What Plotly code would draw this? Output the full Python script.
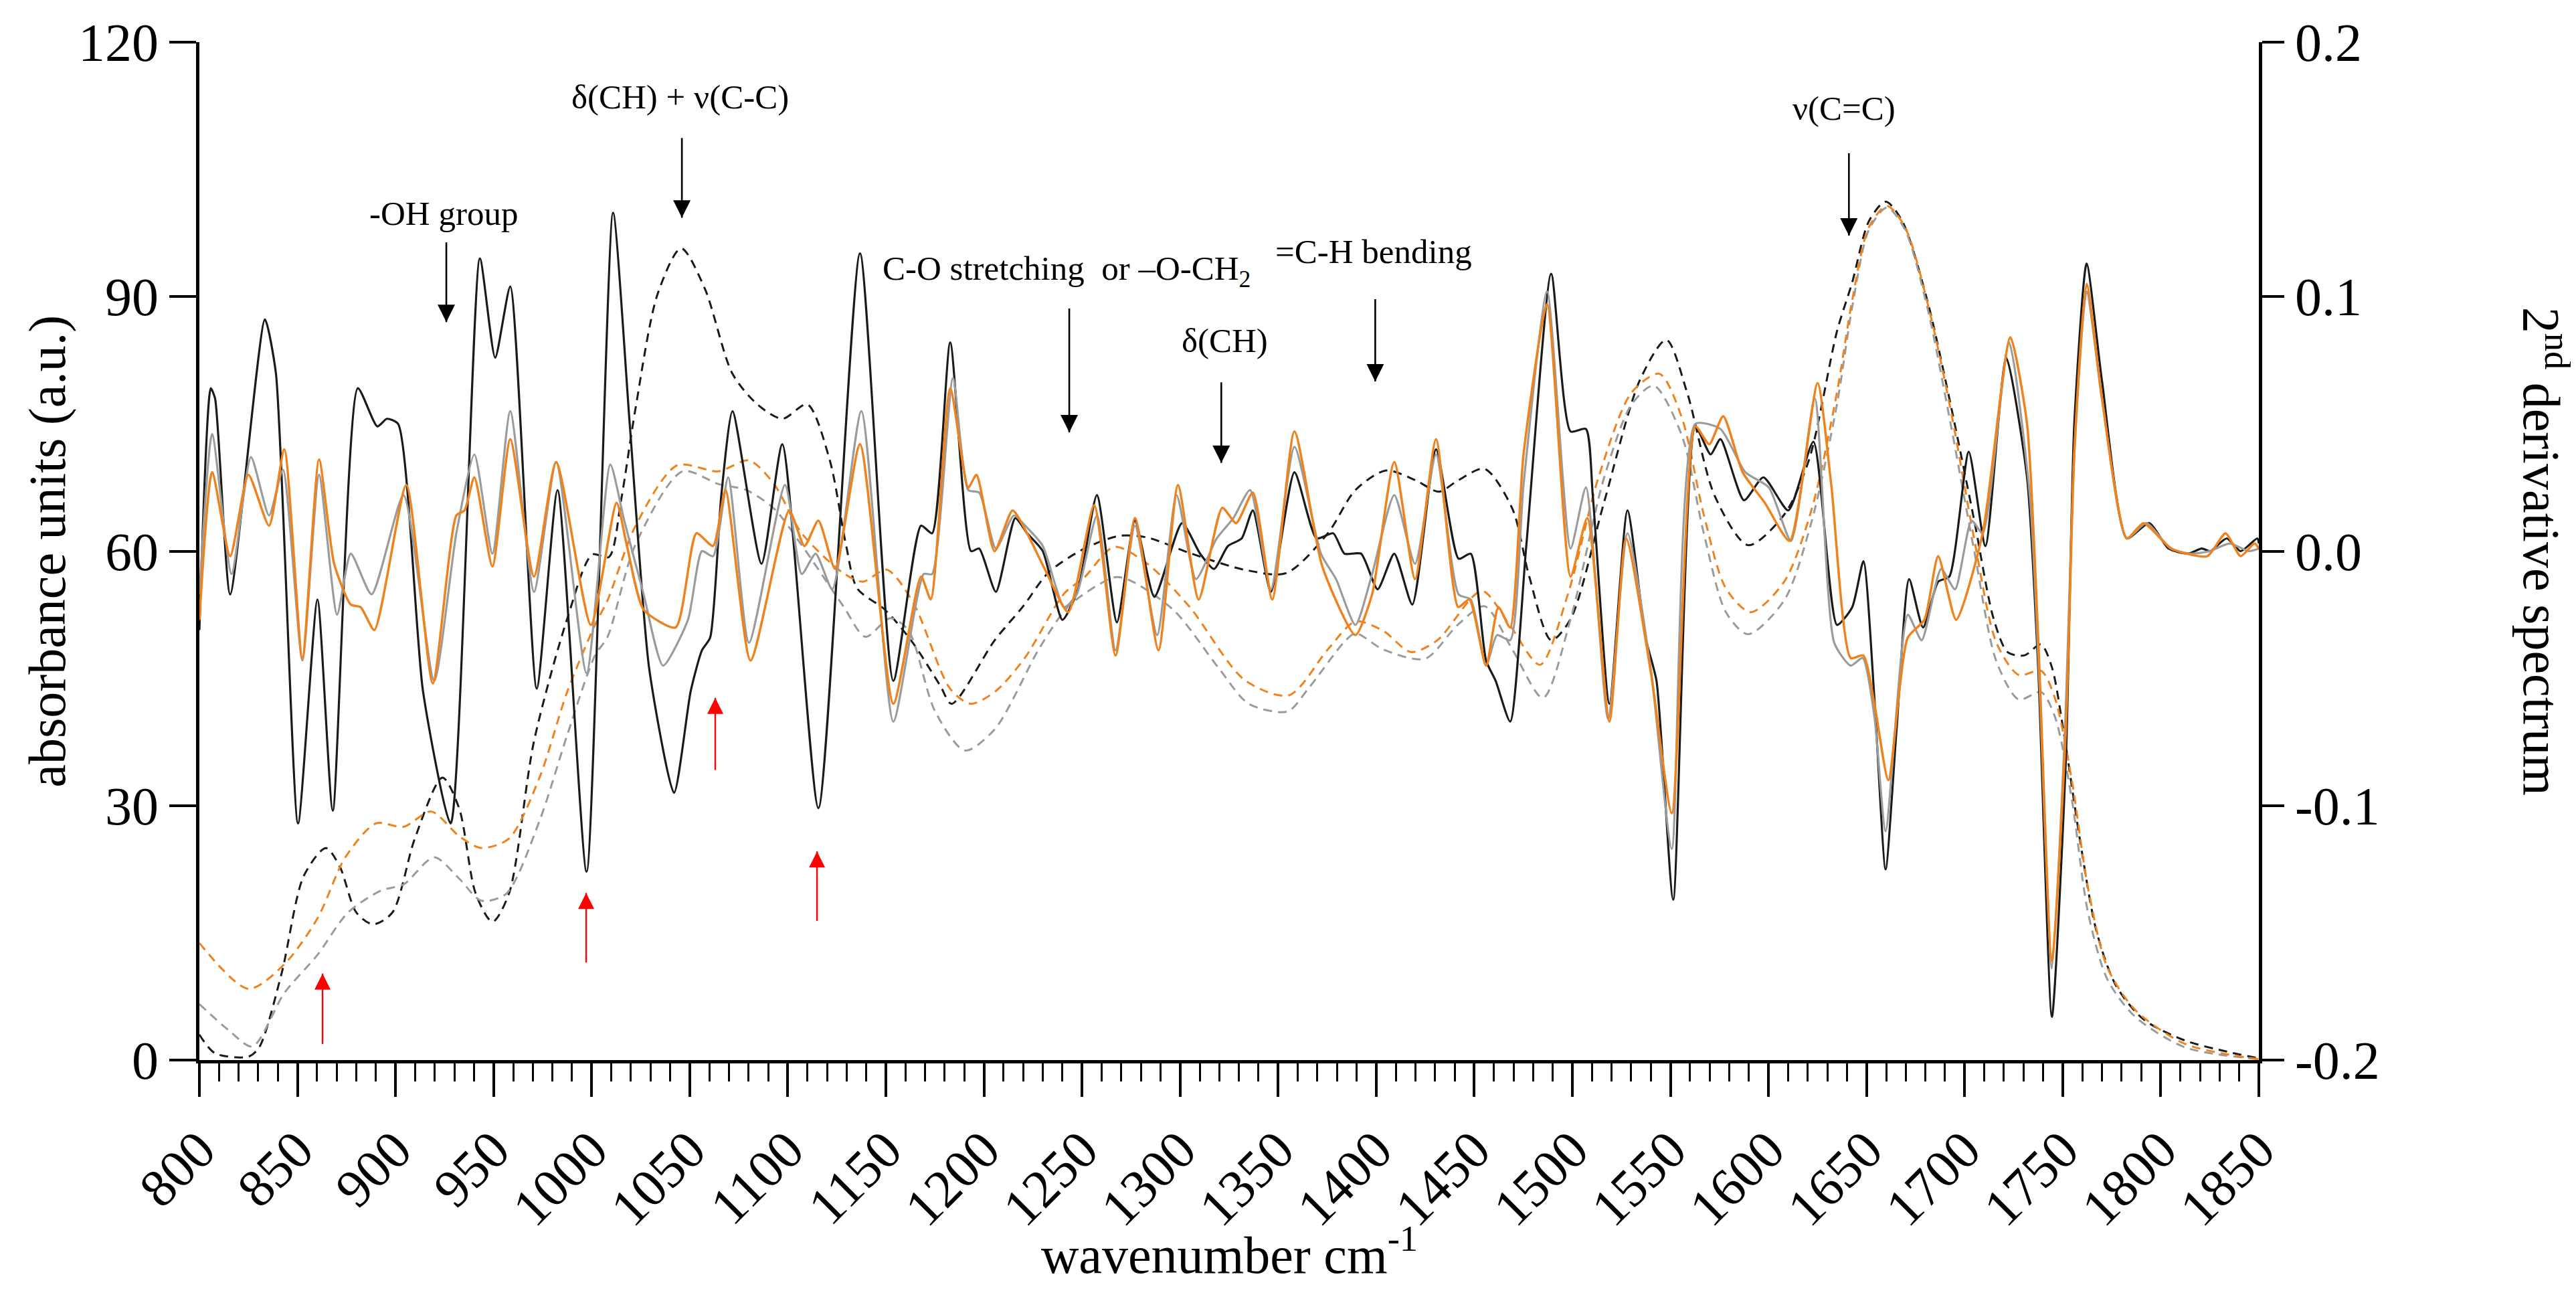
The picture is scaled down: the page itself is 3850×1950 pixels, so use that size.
import plotly.graph_objects as go

# ---------------- data ----------------
# 2nd-derivative spectra (right axis)
d2_black_x = [800, 805.8, 808, 815.7, 833.4, 839, 850.3, 860.2, 868, 880.8, 890.7, 895.6, 901.3, 914, 928.1, 943, 950.8, 958.5, 972, 982.6, 997.4, 1010.9, 1019.4, 1029.3, 1042, 1050.5, 1056.2, 1060.4, 1066.1, 1071.8, 1086.6, 1097.2, 1115.6, 1136.8, 1153.8, 1167.9, 1173.6, 1182.8, 1193.4, 1197.6, 1206.1, 1216, 1222, 1230, 1240, 1248, 1257.6, 1267.8, 1277, 1286.9, 1301, 1310.2, 1317.3, 1324.4, 1331.4, 1337.1, 1346.3, 1358.3, 1369.6, 1378.1, 1383.8, 1392.3, 1400.7, 1409.2, 1418.4, 1430.5, 1442, 1448.2, 1456, 1460.9, 1468.3, 1476.5, 1489.2, 1499.1, 1506.9, 1510.4, 1518.9, 1528.1, 1537.3, 1542.9, 1551.4, 1562.7, 1570.5, 1575.5, 1587.5, 1597.4, 1610.1, 1622.9, 1634.9, 1642.7, 1648.4, 1654, 1659.7, 1665.3, 1671.7, 1678.8, 1686.5, 1692.2, 1702.1, 1710.6, 1721.2, 1731.8, 1737.5, 1744.5, 1751.6, 1755.9, 1762.2, 1770, 1782.7, 1794, 1804, 1813.8, 1820.9, 1825.2, 1833.6, 1840.7, 1849.2, 1850]
d2_black_y = [-0.031, 0.064, 0.060, -0.017, 0.091, 0.070, -0.107, -0.019, -0.102, 0.064, 0.049, 0.052, 0.050, -0.055, -0.107, 0.115, 0.076, 0.104, -0.054, 0.024, -0.126, 0.133, 0.050, -0.046, -0.095, -0.055, -0.039, -0.034, 0.022, 0.055, -0.005, 0.042, -0.101, 0.117, -0.051, 0.010, 0.007, 0.082, 0.000, 0.001, -0.016, 0.013, 0.007, 0.000, -0.027, -0.015, 0.022, -0.028, 0.012, -0.018, 0.011, -0.001, -0.007, 0.002, 0.005, 0.016, -0.016, 0.031, 0.005, 0.007, -0.001, -0.001, -0.015, -0.001, -0.021, 0.040, -0.003, -0.001, -0.043, -0.051, -0.067, 0.002, 0.109, 0.047, 0.048, 0.022, -0.060, 0.016, -0.034, -0.051, -0.137, 0.049, 0.038, 0.044, 0.020, 0.029, 0.016, 0.043, -0.029, -0.022, -0.004, -0.058, -0.125, -0.070, -0.011, -0.030, -0.012, -0.010, 0.039, 0.002, 0.076, 0.029, -0.046, -0.183, -0.082, 0.050, 0.113, 0.067, 0.005, 0.011, 0.001, -0.001, 0.001, 0.000, 0.005, 0.000, 0.005, 0.003]

d2_gray_x = [800, 806.5, 816.4, 826.3, 835.5, 842.6, 852.5, 861, 870.2, 877.2, 887.8, 904.1, 919.7, 931, 940.2, 949.4, 958.5, 970.6, 981.9, 997.4, 1009.5, 1016.6, 1026.5, 1036.4, 1049.1, 1056.2, 1061.9, 1069.6, 1080.2, 1098.6, 1107.1, 1114.2, 1122.7, 1137.5, 1153.8, 1169.3, 1173.6, 1184.2, 1192, 1197.6, 1206.1, 1215.3, 1221, 1230, 1240.9, 1247.3, 1257.6, 1267.1, 1277, 1288.3, 1298.2, 1308.1, 1318.7, 1327.2, 1335.7, 1346.3, 1358.3, 1371.8, 1379.5, 1389.4, 1397.9, 1409.2, 1419.8, 1430.5, 1442, 1448.2, 1456, 1461.6, 1468.3, 1475.1, 1487.1, 1499.1, 1506.9, 1518.2, 1528.1, 1540.1, 1550.7, 1562.7, 1575.5, 1588.2, 1600.2, 1611.5, 1623.6, 1633.5, 1641.9, 1648, 1654, 1659.7, 1671, 1678.1, 1688, 1695.1, 1703.5, 1709.2, 1722.6, 1733.2, 1738, 1744.5, 1751, 1756, 1762.2, 1770, 1782.7, 1792.6, 1805, 1815, 1825, 1835, 1845, 1850]
d2_gray_y = [-0.017, 0.046, -0.009, 0.037, 0.014, 0.032, -0.043, 0.030, -0.025, -0.001, -0.017, 0.022, -0.051, 0.007, 0.038, -0.001, 0.055, -0.016, 0.035, -0.048, 0.034, 0.012, -0.017, -0.045, -0.027, 0.000, -0.002, 0.029, -0.036, 0.026, -0.009, -0.001, -0.015, 0.055, -0.067, -0.009, -0.009, 0.068, 0.024, 0.023, 0.001, 0.014, 0.010, 0.002, -0.022, -0.017, 0.014, -0.039, 0.010, -0.033, 0.022, -0.011, 0.005, 0.013, 0.024, -0.015, 0.041, -0.001, -0.011, -0.029, -0.009, 0.022, -0.005, 0.038, -0.017, -0.019, -0.045, -0.033, -0.035, 0.026, 0.102, 0.001, 0.025, -0.066, 0.007, -0.047, -0.117, 0.050, 0.048, 0.031, 0.025, 0.004, 0.060, -0.036, -0.045, -0.042, -0.065, -0.110, -0.025, -0.035, -0.007, -0.015, 0.012, 0.007, 0.082, 0.022, -0.050, -0.164, -0.073, 0.040, 0.102, 0.060, 0.005, 0.011, 0.001, -0.001, 0.000, 0.003, 0.000, 0.001]

d2_orange_x = [800, 806.5, 815.7, 825, 835.5, 843.3, 852.5, 861, 868.7, 877.2, 882.2, 889.2, 905.5, 919, 931, 935.2, 940.2, 949.4, 958.5, 970.6, 981.9, 999.6, 1012.7, 1018, 1026.5, 1042.8, 1053.4, 1061.9, 1068.2, 1081, 1100.7, 1108.5, 1115.6, 1124.1, 1136.8, 1153.8, 1167.9, 1172.9, 1182.8, 1192, 1196.2, 1205.4, 1214.6, 1222, 1231, 1243, 1256.2, 1267.1, 1277, 1289, 1298.9, 1309.5, 1321.5, 1328.6, 1337.1, 1347, 1358.3, 1372.5, 1389.4, 1397.9, 1409.2, 1419.8, 1430.5, 1441.8, 1447.5, 1456, 1462.3, 1468.3, 1475.1, 1487.1, 1499.1, 1507.6, 1518.9, 1527.4, 1540.1, 1550.7, 1562.7, 1569.8, 1576.9, 1586.8, 1598.1, 1610.8, 1625, 1632, 1641.9, 1648.3, 1654, 1661.1, 1671, 1679.5, 1686.5, 1695.7, 1709.2, 1723.3, 1731.8, 1737.5, 1744.5, 1751.6, 1756, 1762.2, 1770, 1782.7, 1791.2, 1805.4, 1823.7, 1833, 1840.7, 1847.8, 1850]
d2_orange_y = [-0.027, 0.031, -0.002, 0.030, 0.010, 0.040, -0.042, 0.036, -0.005, -0.021, -0.022, -0.031, 0.026, -0.052, 0.014, 0.016, 0.029, -0.006, 0.044, -0.010, 0.035, -0.029, 0.019, 0.002, -0.023, -0.030, 0.007, 0.002, 0.024, -0.043, 0.016, 0.002, 0.012, -0.007, 0.042, -0.060, -0.010, -0.019, 0.064, 0.025, 0.030, 0.000, 0.016, 0.007, -0.007, -0.024, 0.018, -0.041, 0.013, -0.039, 0.026, -0.019, 0.017, 0.011, 0.023, -0.019, 0.047, -0.006, -0.033, -0.017, 0.035, -0.011, 0.044, -0.022, -0.019, -0.045, -0.022, -0.030, 0.038, 0.097, -0.010, 0.013, -0.067, 0.005, -0.048, -0.103, 0.049, 0.042, 0.053, 0.031, 0.019, 0.004, 0.066, 0.026, -0.042, -0.041, -0.060, -0.090, -0.034, -0.027, -0.002, -0.027, 0.007, 0.084, 0.050, -0.034, -0.161, -0.070, 0.040, 0.105, 0.060, 0.005, 0.011, 0.001, -0.002, 0.007, -0.002, 0.003, 0.001]

# absorbance spectra (left axis)
abs_black_x = [800, 808, 825, 830.5, 841.9, 853.2, 864.5, 871.6, 880, 888.5, 898.4, 909.8, 923.9, 932.4, 940.9, 949.4, 957.8, 970.6, 987.5, 1000.3, 1008.8, 1015, 1022.2, 1033.6, 1045.6, 1057.6, 1071.8, 1084.5, 1097.2, 1109.9, 1121.3, 1129.7, 1135.4, 1149.5, 1163.7, 1177.8, 1183.5, 1205.5, 1220, 1233, 1251.2, 1269.2, 1283.3, 1304.6, 1332.9, 1354.1, 1375.3, 1389.4, 1405, 1420.5, 1431.9, 1441.5, 1455.2, 1469.4, 1477.9, 1489.2, 1499.1, 1516.1, 1534.5, 1547.9, 1558.5, 1572.6, 1589.6, 1608, 1620.7, 1634.9, 1642.7, 1651.2, 1659.7, 1668.2, 1680.9, 1692.2, 1704.9, 1714.8, 1721.9, 1730.4, 1738.9, 1744.5, 1750.2, 1758.7, 1767.2, 1777.1, 1791.2, 1812.4, 1833.6, 1850]
abs_black_y = [3.0, 0.8, 0.4, 1.5, 10.2, 21.7, 25.0, 22.8, 17.4, 16.0, 17.4, 26.1, 33.3, 29.7, 19.6, 16.3, 19.6, 37.6, 52.0, 59.6, 59.3, 66.0, 76.6, 90.3, 95.7, 91.0, 80.9, 77.3, 75.6, 77.3, 70.8, 60.7, 55.6, 53.1, 49.2, 44.1, 42.0, 49.5, 53.5, 57.5, 60.3, 61.8, 61.6, 59.8, 57.8, 57.4, 62.1, 67.2, 69.5, 68.3, 67.0, 68.3, 69.7, 65.0, 57.1, 49.5, 52.0, 65.7, 80.2, 84.9, 78.7, 66.5, 60.7, 64.3, 70.8, 85.9, 91.7, 98.9, 101.2, 98.9, 89.6, 78.0, 63.6, 52.0, 48.1, 47.7, 49.0, 46.3, 39.1, 26.1, 15.2, 8.8, 4.8, 2.3, 1.0, 0.2]

abs_gray_x = [800, 815, 827, 843.3, 860.2, 875.8, 892.8, 904.1, 919.7, 932.4, 943.7, 956.4, 973.4, 987.5, 1001.7, 1008.1, 1022.2, 1046.3, 1064.7, 1078.8, 1093, 1107.1, 1128.3, 1139.6, 1152.2, 1161.4, 1175.1, 1190.3, 1205.5, 1228.4, 1243.6, 1266.4, 1274, 1296.9, 1319.7, 1335, 1354.8, 1365.4, 1383.4, 1389.4, 1403.6, 1424.8, 1441.5, 1455.2, 1469.4, 1485, 1499.1, 1516.1, 1530.2, 1541.5, 1555.7, 1567, 1578.3, 1589.6, 1608, 1622.1, 1634.9, 1642.7, 1651.2, 1660.4, 1669.6, 1680.9, 1692.2, 1704.9, 1716.2, 1727.6, 1738.9, 1746, 1754.4, 1762.9, 1772.8, 1787, 1812.4, 1850]
abs_gray_y = [6.6, 3.5, 1.6, 7.9, 12.4, 17.4, 20.0, 20.7, 23.9, 21.4, 18.8, 19.6, 28.2, 38.3, 47.7, 49.9, 60.7, 69.4, 67.9, 67.2, 65.0, 60.7, 53.5, 49.9, 52.1, 50.7, 41.1, 36.5, 39.0, 48.6, 53.6, 56.9, 56.6, 53.0, 46.2, 42.0, 41.1, 43.8, 49.2, 50.3, 48.4, 47.3, 51.3, 53.5, 48.4, 42.7, 52.0, 68.6, 77.3, 79.5, 73.7, 62.1, 52.8, 50.2, 54.2, 63.6, 77.3, 88.8, 97.9, 100.5, 97.9, 88.8, 75.8, 60.0, 47.0, 42.5, 43.4, 40.5, 31.1, 17.4, 9.5, 5.1, 1.5, 0.1]

abs_orange_x = [800, 825, 843.3, 860.2, 874.4, 890, 904.1, 918.2, 932.4, 943.7, 957.8, 973.4, 987.5, 1001.7, 1008.1, 1022.2, 1043.5, 1064.7, 1080.2, 1093, 1107.1, 1128.3, 1138.2, 1150.5, 1164, 1182.7, 1193.3, 1206, 1220.8, 1240.9, 1251.2, 1266.4, 1283.3, 1304.6, 1332.9, 1355.5, 1375.3, 1389.4, 1403.6, 1417.7, 1431.2, 1453.8, 1468, 1483.5, 1497.7, 1513.2, 1530.2, 1544.4, 1555.7, 1567, 1578.3, 1591, 1608, 1622.1, 1634.9, 1642.7, 1651.2, 1660.4, 1669.6, 1682.3, 1693.6, 1704.9, 1716.2, 1727.6, 1738.9, 1746, 1754.4, 1762.9, 1772.8, 1787, 1812.4, 1850]
abs_orange_y = [13.8, 8.4, 11.3, 16.7, 23.9, 27.9, 27.5, 29.3, 26.4, 25.0, 26.1, 33.3, 43.4, 51.3, 54.2, 62.9, 70.1, 69.4, 70.7, 67.9, 62.1, 57.4, 56.4, 57.8, 53.9, 43.8, 42.0, 43.5, 47.4, 55.0, 56.9, 60.5, 58.5, 53.5, 44.8, 43.0, 48.4, 51.7, 50.6, 48.1, 49.5, 55.3, 51.3, 46.6, 54.9, 68.6, 78.7, 80.9, 75.8, 64.3, 55.6, 52.8, 56.4, 65.0, 78.7, 89.6, 98.2, 100.7, 98.2, 88.1, 75.8, 61.4, 49.2, 45.4, 45.9, 42.7, 33.3, 20.3, 10.9, 5.9, 1.9, 0.1]

# axis ticks
x_ticks = [800, 850, 900, 950, 1000, 1050, 1100, 1150, 1200, 1250, 1300, 1350, 1400, 1450, 1500, 1550, 1600, 1650, 1700, 1750, 1800, 1850]
y_ticks = [0, 30, 60, 90, 120]
y2_ticks = [-0.2, -0.1, 0.0, 0.1, 0.2]
y2_ticktext = ["-0.2", "-0.1", "0.0", "0.1", "0.2"]

# band labels and their black arrows (left-axis units)
band_text = ["-OH group", "δ(CH) + ν(C-C)", "C-O stretching\u00a0 or –O-CH<sub>2</sub>", "δ(CH)", "=C-H bending", "ν(C=C)"]
band_text_x = [924.5, 1045, 1242, 1322.7, 1398.8, 1638.6]
band_text_y = [99.8, 113.5, 93.0, 84.8, 95.3, 112.2]
band_arrow_x = [925.9, 1046, 1243.5, 1321, 1399.5, 1641]
band_arrow_tip = [87.0, 99.3, 74.0, 70.4, 80.0, 97.2]
band_arrow_tail = [96.4, 108.7, 88.6, 79.9, 89.7, 106.9]

# red arrows (left-axis units)
red_x = [862.8, 997.2, 1063, 1114.9]
red_tip = [10.2, 19.7, 42.7, 24.6]
red_tail = [1.9, 11.5, 34.2, 16.4]

BLACK = "#1a1a1a"
GRAY = "#9b9b9b"
ORANGE = "#f0821e"
RED = "#ff0000"
FONT = "Liberation Serif"

fig = go.Figure()

dash = "13px,9px"
for xs, ys, col in [(abs_black_x, abs_black_y, BLACK), (abs_gray_x, abs_gray_y, GRAY),
                    (abs_orange_x, abs_orange_y, ORANGE)]:
    fig.add_trace(go.Scatter(x=xs, y=ys, mode="lines",
                             line=dict(color=col, width=3, dash=dash, shape="spline", smoothing=0.8),
                             showlegend=False, hoverinfo="skip"))

for xs, ys, col, w in [(d2_black_x, d2_black_y, BLACK, 3.2), (d2_gray_x, d2_gray_y, GRAY, 3.2),
                       (d2_orange_x, d2_orange_y, ORANGE, 3.5)]:
    fig.add_trace(go.Scatter(x=xs, y=ys, mode="lines", yaxis="y2",
                             line=dict(color=col, width=w, shape="spline", smoothing=0.6),
                             showlegend=False, hoverinfo="skip"))


def shafts(xs, tips, tails):
    sx, sy = [], []
    for x, a, b in zip(xs, tips, tails):
        sx += [x, x, None]
        sy += [b, a, None]
    return sx, sy


# black band arrows
bx, by = shafts(band_arrow_x, band_arrow_tip, band_arrow_tail)
fig.add_trace(go.Scatter(x=bx, y=by, mode="lines", line=dict(color="black", width=2.6),
                         showlegend=False, hoverinfo="skip", cliponaxis=False))
fig.add_trace(go.Scatter(x=band_arrow_x, y=band_arrow_tip, mode="markers",
                         marker=dict(symbol="arrow-down", size=26, color="black", line=dict(width=0)),
                         showlegend=False, hoverinfo="skip", cliponaxis=False))

# red arrows
rx, ry = shafts(red_x, red_tip, red_tail)
fig.add_trace(go.Scatter(x=rx, y=ry, mode="lines", line=dict(color=RED, width=2.4),
                         showlegend=False, hoverinfo="skip"))
fig.add_trace(go.Scatter(x=red_x, y=red_tip, mode="markers",
                         marker=dict(symbol="arrow-up", size=24, color=RED, line=dict(width=0)),
                         showlegend=False, hoverinfo="skip"))

annotations = []
for t, tx, ty in zip(band_text, band_text_x, band_text_y):
    annotations.append(dict(text=t, x=tx, y=ty, xref="x", yref="y", showarrow=False,
                            xanchor="center", yanchor="middle",
                            font=dict(family=FONT, size=51, color="black")))

# axis titles
annotations.append(dict(text="absorbance units (a.u.)", x=-0.074, y=0.5, xref="paper", yref="paper",
                        textangle=-90, showarrow=False, xanchor="center", yanchor="middle",
                        font=dict(family=FONT, size=78, color="black")))
annotations.append(dict(text="2<sup>nd</sup> derivative spectrum", x=1.139, y=0.5, xref="paper", yref="paper",
                        textangle=90, showarrow=False, xanchor="center", yanchor="middle",
                        font=dict(family=FONT, size=78, color="black")))
annotations.append(dict(text="wavenumber cm<sup>-1</sup>", x=0.5, y=-0.188, xref="paper", yref="paper",
                        showarrow=False, xanchor="center", yanchor="middle",
                        font=dict(family=FONT, size=78, color="black")))

fig.update_layout(
    width=3850, height=1950,
    margin=dict(l=290, r=482, t=37, b=374),
    paper_bgcolor="white", plot_bgcolor="white",
    font=dict(family=FONT, color="black"),
    annotations=annotations,
    xaxis=dict(range=[800, 1850], tickvals=x_ticks, ticktext=[str(v) for v in x_ticks],
               tickangle=-45, ticks="outside", ticklen=50, tickwidth=4, tickcolor="black",
               minor=dict(dtick=10, tick0=800, ticks="outside", ticklen=27, tickwidth=3, tickcolor="black"),
               showline=True, linewidth=5, linecolor="black", showgrid=False, zeroline=False,
               ticklabeloverflow="allow",
               tickfont=dict(family=FONT, size=80, color="black")),
    yaxis=dict(range=[0, 120], tickvals=y_ticks, ticktext=[str(v) for v in y_ticks],
               ticks="outside", ticklen=40, tickwidth=4, tickcolor="black",
               showline=True, linewidth=5, linecolor="black", showgrid=False, zeroline=False,
               ticklabeloverflow="allow",
               tickfont=dict(family=FONT, size=80, color="black")),
    yaxis2=dict(range=[-0.2, 0.2], tickvals=y2_ticks, ticktext=y2_ticktext, overlaying="y", side="right",
                ticks="outside", ticklen=33, tickwidth=4, tickcolor="black",
                showline=True, linewidth=5, linecolor="black", showgrid=False, zeroline=False,
                ticklabeloverflow="allow",
                tickfont=dict(family=FONT, size=80, color="black")),
)

fig.write_html("out.html")
